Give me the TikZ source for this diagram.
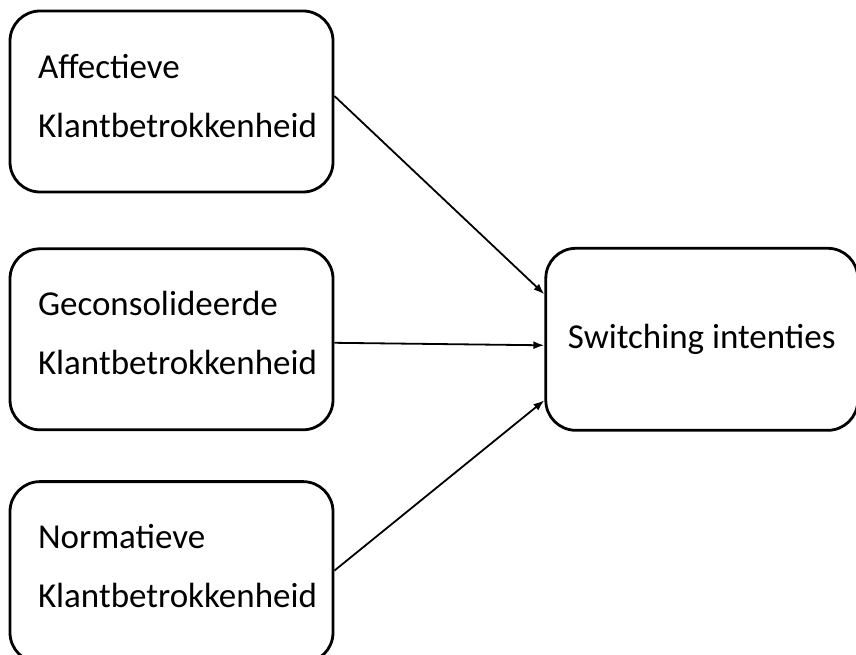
\documentclass[tikz,border=0pt]{standalone}
\usepackage{fontspec}
\setmainfont{Carlito}
\usepackage{tikz}
\usetikzlibrary{positioning, arrows.meta}

\begin{document}
\begin{tikzpicture}[x=1pt, y=1pt,
        dim/.style={draw, line width=2.8pt, rounded corners=30pt,
            minimum width=323pt, minimum height=181pt,
            font=\fontsize{35pt}{59pt}\selectfont},
        dimtext/.style={dim, align=left, text width=267pt, inner xsep=28pt, text depth=71pt},
        pijl/.style={-{Latex[length=11pt, width=8pt]}, line width=1.8pt}]
        \useasboundingbox (0,0) rectangle (856,-655);
        \node[dimtext] (aff) at (171.5,-101.5) {Affectieve\\\mbox{Klantbetrokkenheid}};
        \node[dimtext, below=54pt of aff] (gec) {Geconsolideerde\\\mbox{Klantbetrokkenheid}};
        \node[dimtext, below=49pt of gec] (nor) {Normatieve\\\mbox{Klantbetrokkenheid}};
        \node[dim, minimum width=312pt, minimum height=182pt, right=210pt of gec] (sw) {Switching intenties};
        \draw[pijl] ([yshift=5.5pt]aff.east) -- ([yshift=45pt]sw.west);
        \draw[pijl] ([yshift=-3.5pt]gec.east) -- ([yshift=-6pt]sw.west);
        \draw[pijl] ([yshift=1.5pt]nor.east) -- ([yshift=-61pt]sw.west);
    \end{tikzpicture}
\end{document}
